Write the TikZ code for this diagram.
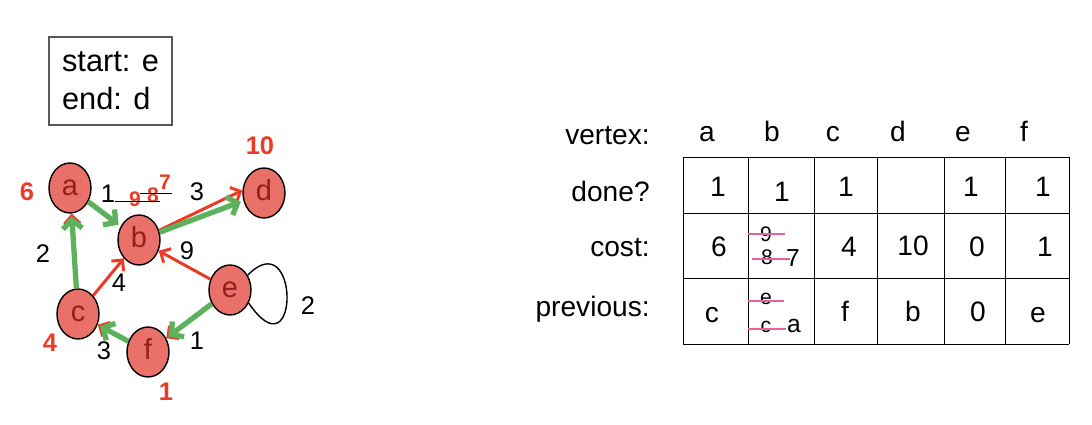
\documentclass[tikz,border=0pt]{standalone}
\usepackage{fontspec}
\setmainfont{Liberation Sans}
\usetikzlibrary{shapes.geometric,arrows.meta,positioning}
\definecolor{nodered}{RGB}{234,112,106}
\definecolor{letterred}{RGB}{150,30,30}
\definecolor{costred}{RGB}{236,58,38}
\definecolor{pathgreen}{RGB}{92,178,92}
\definecolor{strikepink}{RGB}{232,96,160}

\begin{document}
\begin{tikzpicture}[x=0.02cm, y=-0.02cm,
    vertex/.style={ellipse, thick, draw=black, fill=nodered, minimum width=0.84cm, minimum height=1cm, inner sep=0pt, text height=1.7ex, text depth=0pt, font=\fontsize{16.5}{18}\selectfont, text=letterred},
    costlabel/.style={anchor=base, font=\fontsize{14.5}{16}\selectfont\bfseries, text=costred},
    oldcost/.style={anchor=base, font=\fontsize{12}{14}\selectfont\bfseries, text=costred},
    weight/.style={anchor=base, font=\fontsize{14.5}{16}\selectfont},
    greenedge/.style={-{Straight Barb[length=5pt,width=11pt]}, line width=3pt, draw=pathgreen, shorten >=1.5pt},
    rededge/.style={-{Straight Barb[length=4.5pt,width=9pt]}, line width=1.7pt, draw=costred},
    cell/.style={anchor=base, font=\fontsize{16}{18}\selectfont},
    smallcell/.style={anchor=base, font=\fontsize{12}{14}\selectfont},
    midcell/.style={anchor=base, font=\fontsize{14}{16}\selectfont},
    rowlabel/.style={anchor=base east, inner sep=0pt, font=\fontsize{16}{18}\selectfont},
    strike/.style={draw=strikepink, line width=1pt}]
    \useasboundingbox (0,0) rectangle (1092,425);

    \node[draw=black!65, thick, align=left, minimum width=2.46cm, minimum height=1.76cm, font=\fontsize{17.5}{21.5}\selectfont] (endpoints) at (110.5,81) {start: e\\end: d};

    \node[vertex] (a) at (70,188) {a};
    \node[vertex] (b) at (139,240) {b};
    \node[vertex] (d) at (264,193) {d};
    \node[vertex] (e) at (230,290) {e};
    \node[vertex] (c) at (78,314) {c};
    \node[vertex] (f) at (148,352) {f};

    \node[costlabel] (cost a) at (27,201) {6};
    \node[costlabel] (cost d) at (260,155) {10};
    \node[costlabel] (cost c) at (50,352) {4};
    \node[costlabel] (cost f) at (166,400) {1};

    \draw[rededge] (c) -- (a);
    \draw[rededge] (b) -- ([yshift=1.5pt]d.west);
    \draw[rededge] (f) -- (c);
    \draw[rededge] (e) -- (f);
    \draw[rededge] (c) -- (b);
    \draw[rededge] (e) -- (b);
    \draw[greenedge] (a) -- (b);
    \draw[greenedge] (b) -- (d);
    \draw[greenedge] (c) -- (a);
    \draw[greenedge] (e) -- (f);
    \draw[greenedge] (f) -- (c);
    \draw[thick] (e.40) .. controls (300,222) and (300,378) .. (e.-35);

    \node[weight] (w ab) at (108,203) {1};
    \node[weight] (w bd) at (197,201) {3};
    \node[weight] (w ca) at (43,263) {2};
    \node[weight] (w cb) at (119,292) {4};
    \node[weight] (w eb) at (187,260) {9};
    \node[weight] (w ef) at (197,350) {1};
    \node[weight] (w fc) at (104,360) {3};
    \node[weight] (w ee) at (308,315) {2};
    \node[oldcost] (old b1) at (135,207) {9};
    \node[oldcost] (old b2) at (153,203) {8};
    \node[oldcost] (new b) at (165,190) {7};
    \draw (115,201) -- (160,201);
    \draw (140,193) -- (172,193);

    \foreach \x in {683,748,814,877,944,1005,1069}
        \draw (\x,157) -- (\x,344);
    \foreach \y in {157,213,278,344}
        \draw (683,\y) -- (1069,\y);

    \node[rowlabel] (vertex) at (650,145) {vertex:};
    \node[rowlabel] (done) at (650,202) {done?};
    \node[rowlabel] (cost) at (650,257) {cost:};
    \node[rowlabel] (previous) at (650,317) {previous:};

    \foreach \v/\x in {a/707,b/772,c/833,d/898,e/963,f/1024}
        \node[cell] (head \v) at (\x,142) {\v};

    \foreach \v/\x/\y in {a/718/197,b/782/202,c/846/197,e/971/197,f/1043/197}
        \node[cell] (done \v) at (\x,\y) {1};

    \node[cell] (cost a) at (719,257) {6};
    \node[cell] (cost c) at (849,257) {4};
    \node[cell] (cost d) at (913,256) {10};
    \node[cell] (cost e) at (977,257) {0};
    \node[cell] (cost f) at (1045,257) {1};
    \node[smallcell] (cost b1) at (766,242) {9};
    \node[smallcell] (cost b2) at (767,265) {8};
    \node[midcell] (cost b) at (793,267) {7};
    \draw[strike] (748,234) -- (785,234);
    \draw[strike] (752,259) -- (790,259);

    \node[cell] (prev a) at (712,323) {c};
    \node[cell] (prev c) at (845,322) {f};
    \node[cell] (prev d) at (913,322) {b};
    \node[cell] (prev e) at (978,322) {0};
    \node[cell] (prev f) at (1038,323) {e};
    \node[smallcell] (prev b1) at (766,305) {e};
    \node[smallcell] (prev b2) at (766,333) {c};
    \node[midcell] (prev b) at (794,333) {a};
    \draw[strike] (748,301) -- (784,301);
    \draw[strike] (748,329) -- (786,329);
\end{tikzpicture}
\end{document}
